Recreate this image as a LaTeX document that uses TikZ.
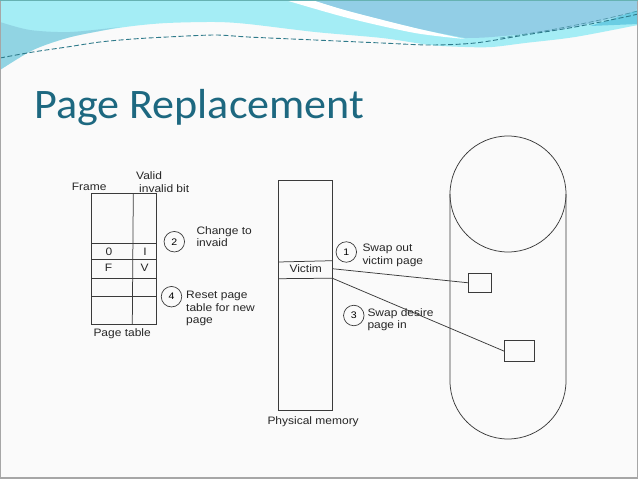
\documentclass[tikz,border=0pt]{standalone}
\usepackage{fontspec}
\setmainfont{Liberation Sans}
\newfontfamily\titlefont[FakeStretch=1.05]{Carlito}
\newfontfamily\diagfont[FakeStretch=1.11]{Liberation Sans}
\definecolor{titleteal}{HTML}{1D6880}
\definecolor{cyanlight}{HTML}{A4EDF5}
\definecolor{cyandark}{HTML}{82C0D6}
\definecolor{bluemid}{HTML}{92CEE6}
\definecolor{bluebright}{HTML}{5CC6DF}
\definecolor{dashteal}{HTML}{2E7A8A}
\definecolor{inkgray}{HTML}{3A3A3A}
\definecolor{slidebg}{HTML}{FAFAFA}
\tikzset{
  ink/.style={draw=inkgray, line width=0.75pt},
  lbl/.style={font=\diagfont\fontsize{10.8}{12.5}\selectfont, text=black!85, inner sep=0pt},
  numcirc/.style={draw=inkgray, line width=0.7pt, circle, minimum size=20.5pt, inner sep=0pt,
    font=\diagfont\fontsize{9.5}{11}\selectfont},
  smallbox/.style={draw=inkgray, line width=0.8pt, fill=none},
  wavedash/.style={dashteal, line width=0.9pt, dash pattern=on 5pt off 2.5pt}
}
\begin{document}
\begin{tikzpicture}[x=1pt,y=-1pt]
\useasboundingbox (0,0) rectangle (638,479);
% slide background
\fill[slidebg] (0,0) rectangle (638,479);
% header decoration: base cyan band
\fill[cyanlight]
  (0,0) -- (638,0)
  -- plot[smooth] coordinates {(638,25) (575,37) (525,43) (492,47) (465,47) (430,45) (382,38) (315,32) (248,24) (215,22) (167,23) (133,26) (100,31) (67,38) (33,50) (0,70)}
  -- cycle;
% darker lower-left part
\fill[cyandark, opacity=0.55]
  plot[smooth] coordinates {(0,22) (30,30) (70,32) (120,27)}
  -- plot[smooth] coordinates {(120,27) (100,31) (67,38) (33,50) (0,70)}
  -- cycle;
% medium blue region upper right
\fill[bluemid]
  plot[smooth] coordinates {(312,0) (348,11) (415,28) (465,38)}
  -- plot[smooth] coordinates {(465,38) (492,37) (558,30) (625,15) (638,8)}
  -- (638,0) -- cycle;
% white stripe
\fill[white]
  plot[smooth] coordinates {(285,0) (348,18) (415,33) (465,39)}
  -- plot[smooth] coordinates {(465,39) (415,28) (348,11) (312,0)}
  -- cycle;
% bright cyan at right edge
\fill[bluebright, opacity=0.8]
  plot[smooth] coordinates {(590,26) (615,18) (638,10)} -- (638,24) -- cycle;
% dashed waves
\draw[wavedash]
  plot[smooth] coordinates {(0,58) (33,52) (67,47) (100,42) (133,39) (167,37) (215,35) (248,37) (315,40) (382,43) (430,45) (475,43) (525,35) (575,27) (625,17) (638,14)};
\draw[wavedash, line width=0.6pt, opacity=0.7]
  plot[smooth] coordinates {(500,38) (550,30) (600,20) (638,11)};
% slide frame
\draw[gray!70, line width=1.2pt] (0.6,0.6) rectangle (637.4,478);
\draw[teal!60, line width=1pt] (0,0.5) -- (638,0.5);
% title
\node[anchor=base west, inner sep=0pt, font=\titlefont\fontsize{42}{46}\selectfont, text=titleteal]
  (title) at (34,118) {Page Replacement};

% ---- page table ----
\draw[ink] (91.7,193.3) rectangle (156.7,324.3);
\draw[ink] (133.3,193.3) -- (132.3,324.3);
\draw[ink] (91.7,243.3) -- (156.7,243.3);
\draw[ink] (91.7,259) -- (156.7,259);
\draw[ink] (91.7,278.3) -- (156.7,278.3);
\draw[ink] (91.7,296) -- (156.7,296);
\node[lbl, anchor=base west] (frame) at (71.7,190) {Frame};
\node[lbl, anchor=base west] (valid) at (136,179.3) {Valid};
\node[lbl, anchor=base west] (invbit) at (139,192.3) {invalid bit};
\node[lbl, anchor=base] (z0) at (109,255) {0};
\node[lbl, anchor=base] (zI) at (145,255) {I};
\node[lbl, anchor=base] (zF) at (108.5,271.7) {F};
\node[lbl, anchor=base] (zV) at (144.5,271.7) {V};
\node[lbl, anchor=base west] (ptab) at (93.3,336) {Page table};
\node[numcirc] (c2) at (174.3,241.7) {2};
\node[lbl, anchor=base west] (chg1) at (196.3,234) {Change to};
\node[lbl, anchor=base west] (chg2) at (196.3,246) {invaid};
\node[numcirc] (c4) at (171.5,296.7) {4};
\node[lbl, anchor=base west] (rst1) at (186,298.5) {Reset page};
\node[lbl, anchor=base west] (rst2) at (186,311) {table for new};
\node[lbl, anchor=base west] (rst3) at (186,323.5) {page};

% ---- physical memory ----
\draw[ink] (278.3,180.7) rectangle (332.3,410);
\draw[ink] (278.3,262) -- (332.3,260.7);
\draw[ink] (278.3,278.7) -- (332.3,278.2);
\node[lbl, anchor=base west] (victim) at (289.3,272.7) {Victim};
\coordinate (vout) at (332.3,268.7);
\coordinate (vin) at (332.3,278.2);
\node[lbl, anchor=base west] (pmem) at (267.3,424) {Physical memory};
\node[numcirc] (c1) at (346.3,252) {1};
\node[lbl, anchor=base west] (sw1) at (362.3,251.7) {Swap out};
\node[lbl, anchor=base west] (sw2) at (362.3,264.3) {victim page};
\node[numcirc] (c3) at (353.8,315.5) {3};
\node[lbl, anchor=base west] (sd1) at (367.3,316) {Swap desire};
\node[lbl, anchor=base west] (sd2) at (367.3,328.3) {page in};

% ---- backing store (disk) ----
\draw[ink] (508,194) circle[radius=58pt];
\draw[ink] (450,194) -- (450,381) arc[start angle=180, end angle=360, radius=58pt] -- (566,194);
\node[smallbox, minimum width=22.6pt, minimum height=19pt, inner sep=0pt] (b1) at (480,282.8) {};
\node[smallbox, minimum width=29.3pt, minimum height=21pt, inner sep=0pt] (b2) at (519.3,351.2) {};
\draw[ink] (vout) -- (b1.west);
\draw[ink] (vin) -- (b2.west);
\end{tikzpicture}
\end{document}
